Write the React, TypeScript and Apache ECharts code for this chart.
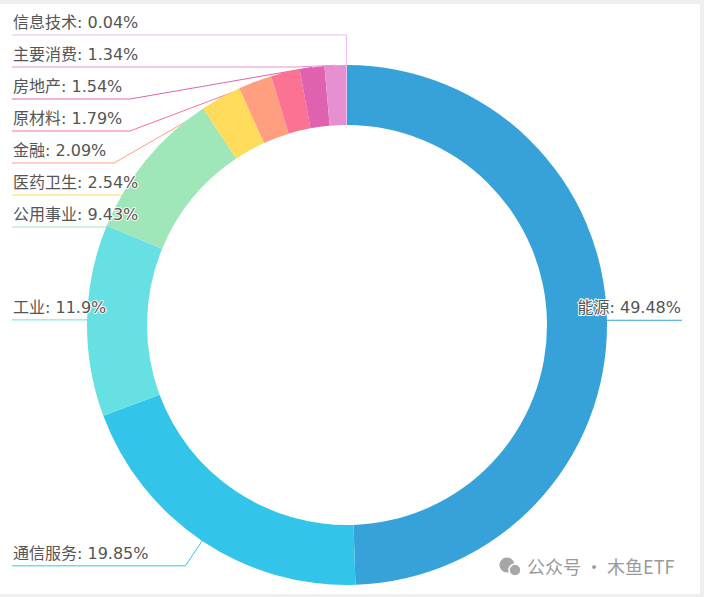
import React, { useEffect, useRef } from 'react';
import * as echarts from 'echarts';

const categories = ['能源', '通信服务', '工业', '公用事业', '医药卫生', '金融', '原材料', '房地产', '主要消费', '信息技术'];
const weights = [49.48, 19.85, 11.9, 9.43, 2.54, 2.09, 1.79, 1.54, 1.34, 0.04];
const palette = ['#37a2da', '#32c5e9', '#67e0e3', '#9fe6b8', '#ffdb5c', '#ff9f7f', '#fb7293', '#e062ae', '#e690d1', '#e7bcf3'];
const watermark = '公众号 · 木鱼ETF';

const FONT_SIZE = 16;
const FONT_FAMILY = '"DejaVu Sans", "Noto Sans CJK SC"';

function labelText(name: string, value: number) {
  return `${name}: ${value}%`;
}

export default function App() {
  const ref = useRef<HTMLDivElement>(null);
  useEffect(() => {
    const canvas = document.createElement('canvas');
    const ctx = canvas.getContext('2d') as CanvasRenderingContext2D;
    ctx.font = `${FONT_SIZE}px ${FONT_FAMILY}`;
    const chart = echarts.init(ref.current as HTMLDivElement, null, { renderer: 'svg' });
    chart.setOption({
      animation: false,
      color: palette,
      series: [
        {
          type: 'pie',
          left: 0,
          right: 6,
          top: 0,
          bottom: 0,
          center: [347, 321],
          radius: [200, 260],
          startAngle: 90,
          clockwise: true,
          avoidLabelOverlap: true,
          data: categories.map((n, i) => ({
            name: n,
            value: weights[i],
            label: { width: Math.ceil(ctx.measureText(labelText(n, weights[i])).width) + 1 },
          })),
          label: {
            alignTo: 'edge',
            edgeDistance: 13,
            formatter: (p: any) => labelText(p.name, p.value),
            fontSize: FONT_SIZE,
            lineHeight: 20,
            color: '#555',
            fontFamily: FONT_FAMILY,
            minMargin: 12,
            textBorderColor: '#fff',
            textBorderWidth: 2,
          },
          labelLine: { length: 30, length2: 15, lineStyle: { width: 1 } },
          labelLayout: (params: any) => {
            const r = params.labelRect;
            const pts = params.labelLinePoints;
            if (!pts) return {};
            const isLeft = r.x < 350;
            const y = pts[2][1];
            if (isLeft) {
              pts[2][0] = r.x;
            } else {
              pts[1] = [Math.min(pts[1][0], r.x), y];
              pts[2][0] = r.x + r.width;
            }
            return { labelLinePoints: pts, dy: -12.5 };
          },
        },
      ],
      graphic: [
        { type: 'circle', shape: { cx: 507, cy: 561, r: 7.5 }, style: { fill: '#a6a6a6' } },
        { type: 'circle', shape: { cx: 515, cy: 566, r: 6 }, style: { fill: '#a6a6a6', stroke: '#fff', lineWidth: 1.5 } },
        {
          type: 'text',
          x: 527,
          y: 562,
          style: { text: watermark, fontSize: 18, fill: '#9a9a9a', fontFamily: '"Noto Sans CJK SC"', verticalAlign: 'middle' },
        },
      ],
    });
    return () => chart.dispose();
  }, []);
  return (
    <div style={{ position: 'fixed', left: 0, top: 0, width: 704, height: 597, background: '#efefef' }}>
      <div ref={ref} style={{ position: 'absolute', left: 0, top: 4, width: 700, height: 590, background: '#fff' }} />
    </div>
  );
}
